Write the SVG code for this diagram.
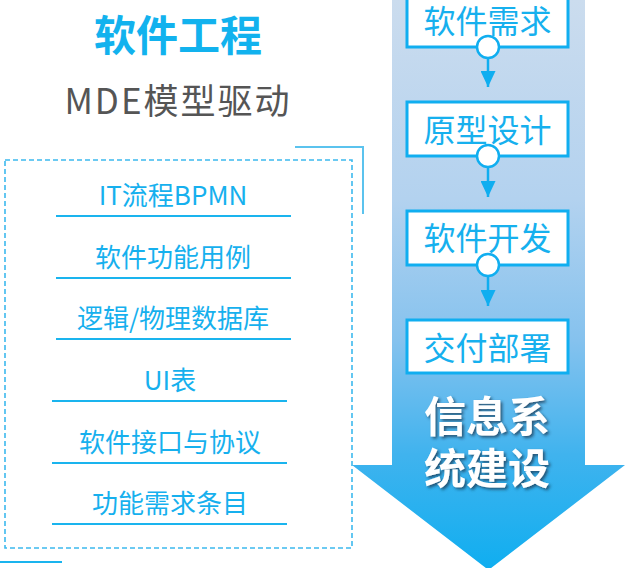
<svg xmlns="http://www.w3.org/2000/svg" width="625" height="568" viewBox="0 0 625 568">
<defs>
<linearGradient id="arrowGrad" x1="0" y1="0" x2="0" y2="568" gradientUnits="userSpaceOnUse">
<stop offset="0" stop-color="#cbdcee"/>
<stop offset="0.35" stop-color="#b3d2ef"/>
<stop offset="0.6" stop-color="#85c2ee"/>
<stop offset="0.8" stop-color="#40b3ee"/>
<stop offset="1" stop-color="#10aef0"/>
</linearGradient>
<filter id="shadow" x="-20%" y="-20%" width="140%" height="140%">
<feDropShadow dx="2" dy="2" stdDeviation="1.5" flood-color="#1a3550" flood-opacity="0.75"/>
</filter>
<marker id="arrowhead" viewBox="0 0 16 15" refX="16" refY="7.5" markerWidth="16" markerHeight="15" markerUnits="userSpaceOnUse" orient="auto">
<path d="M0,0 L16,7.5 L0,15 Z" fill="#10aef0"/>
</marker>
</defs>
<style>
text { font-family: "Noto Sans CJK SC", "Noto Sans", sans-serif; }
.title { font-size: 42px; font-weight: bold; fill: #12b2ee; }
.sub { font-size: 35px; fill: #555555; letter-spacing: 2px; }
.item { font-size: 26px; fill: #16b0ee; }
.uline { stroke: #1ab4ee; stroke-width: 2; }
.box rect { fill: #ffffff; stroke: #10aef0; stroke-width: 3; }
.box text { font-size: 32px; fill: #16b0ee; }
.knob { fill: #ffffff; stroke: #10aef0; stroke-width: 2.5; }
.conn { stroke: #10aef0; stroke-width: 2.5; fill: none; }
.big { font-size: 42px; font-weight: bold; fill: #ffffff; }
</style>

<g id="big-arrow">
<path d="M392,-2 L585,-2 L585,465 L625,465 L488.5,570 L352,465 L392,465 Z" fill="url(#arrowGrad)"/>
</g>

<g id="title">
<text class="title" x="178" y="51" text-anchor="middle">软件工程</text>
</g>
<g id="subtitle">
<text class="sub" x="178" y="114" text-anchor="middle">MDE模型驱动</text>
</g>

<g id="frame">
<rect x="5" y="160" width="347" height="388" fill="none" stroke="#3cb9ee" stroke-width="1.6" stroke-dasharray="5,3"/>
<polyline points="295,147 363,147 363,214" fill="none" stroke="#5bc3ee" stroke-width="2"/>
<line x1="0" y1="562" x2="62" y2="562" stroke="#1ab4ee" stroke-width="2"/>
</g>

<g id="item-bpmn">
<text class="item" x="173" y="205" text-anchor="middle">IT流程BPMN</text>
<line class="uline" x1="56" y1="216" x2="291" y2="216"/>
</g>
<g id="item-usecase">
<text class="item" x="173" y="267" text-anchor="middle">软件功能用例</text>
<line class="uline" x1="56" y1="278" x2="291" y2="278"/>
</g>
<g id="item-db">
<text class="item" x="173" y="328" text-anchor="middle">逻辑/物理数据库</text>
<line class="uline" x1="56" y1="339" x2="291" y2="339"/>
</g>
<g id="item-ui">
<text class="item" x="170" y="390" text-anchor="middle">UI表</text>
<line class="uline" x1="52" y1="401" x2="287" y2="401"/>
</g>
<g id="item-interface">
<text class="item" x="170" y="452" text-anchor="middle">软件接口与协议</text>
<line class="uline" x1="52" y1="463" x2="287" y2="463"/>
</g>
<g id="item-req">
<text class="item" x="170" y="513" text-anchor="middle">功能需求条目</text>
<line class="uline" x1="52" y1="524" x2="287" y2="524"/>
</g>

<g id="connectors">
<line class="conn" x1="488" y1="58" x2="488" y2="87" marker-end="url(#arrowhead)"/>
<line class="conn" x1="488" y1="167" x2="488" y2="197" marker-end="url(#arrowhead)"/>
<line class="conn" x1="488" y1="276" x2="488" y2="306" marker-end="url(#arrowhead)"/>
</g>

<g id="step-requirements" class="box">
<rect x="407" y="-7" width="161" height="54"/>
<text x="487.5" y="33" text-anchor="middle">软件需求</text>
<circle class="knob" cx="488" cy="47" r="11"/>
</g>
<g id="step-prototype" class="box">
<rect x="407" y="102" width="161" height="54"/>
<text x="487.5" y="142" text-anchor="middle">原型设计</text>
<circle class="knob" cx="488" cy="156" r="11"/>
</g>
<g id="step-develop" class="box">
<rect x="407" y="211" width="161" height="54"/>
<text x="487.5" y="250" text-anchor="middle">软件开发</text>
<circle class="knob" cx="488" cy="265" r="11"/>
</g>
<g id="step-deploy" class="box">
<rect x="407" y="320" width="161" height="53"/>
<text x="487.5" y="360" text-anchor="middle">交付部署</text>
</g>

<g id="system-label" filter="url(#shadow)">
<text class="big" x="487" y="432" text-anchor="middle">信息系</text>
<text class="big" x="487" y="484" text-anchor="middle">统建设</text>
</g>
</svg>
